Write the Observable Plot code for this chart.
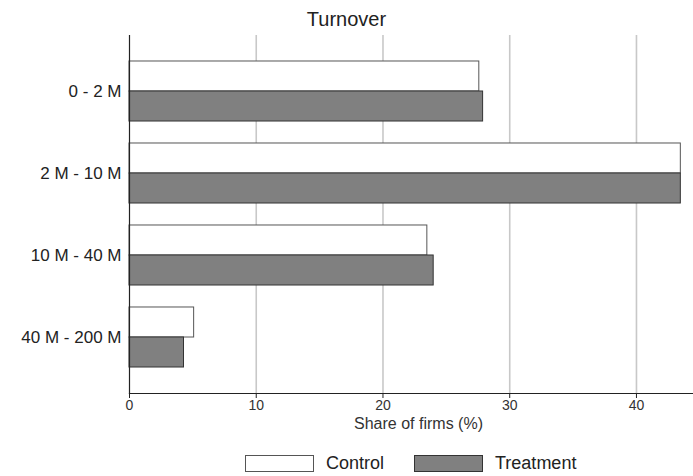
<!DOCTYPE html>
<html>
<head>
<meta charset="utf-8">
<script src="https://cdn.jsdelivr.net/npm/d3@7"></script>
<script src="https://cdn.jsdelivr.net/npm/@observablehq/plot@0.6"></script>
<style>
  html, body { margin: 0; padding: 0; background: #fff; }
  body { position: relative; width: 693px; height: 476px; overflow: hidden; font-family: Arial, "Liberation Sans", sans-serif; color: #222; }
  #title { height: 30px; line-height: 38px; text-align: center; font-size: 20px; white-space: nowrap; }
  #legend { position: absolute; top: 455px; left: 245px; display: flex; align-items: center; font-size: 18px; line-height: 17px; }
  .item { display: flex; align-items: center; margin-right: 30px; }
  .sw { box-sizing: border-box; width: 69px; height: 17px; border: 1px solid #444; margin-right: 12px; }
</style>
</head>
<body>
<div id="title">Turnover</div>
<div id="chart"></div>
<div id="legend"></div>
<script>
// Turnover classes and share of firms (%) in each group
const categories = ["0 - 2 M", "2 M - 10 M", "10 M - 40 M", "40 M - 200 M"];
const control = [27.6, 43.5, 23.5, 5.1];
const treatment = [27.9, 43.5, 24.0, 4.3];
const xTicks = [0, 10, 20, 30, 40];
const groups = ["Control", "Treatment"];
const groupFill = {Control: "#ffffff", Treatment: "#808080"};
const groupStroke = {Control: "#555555", Treatment: "#333333"};

const controlRows = categories.map((c, i) => ({category: c, value: control[i]}));
const treatmentRows = categories.map((c, i) => ({category: c, value: treatment[i]}));

const chart = Plot.plot({
  width: 693,
  height: 406,
  marginTop: 5,
  marginBottom: 43,
  marginLeft: 129,
  marginRight: 0,
  style: {fontFamily: "Arial, 'Liberation Sans', sans-serif", background: "#fff", overflow: "visible"},
  x: {domain: [0, 44.5], label: null},
  y: {domain: categories, paddingInner: 0.268, paddingOuter: 0.317, round: false, label: null},
  marks: [
    Plot.gridX({ticks: xTicks.filter(d => d > 0), stroke: "#c8c8c8", strokeOpacity: 1, strokeWidth: 1.6}),
    // each category band holds the control bar on top and the treatment bar below
    Plot.barX(controlRows, {x: "value", y: "category", fill: groupFill.Control, stroke: groupStroke.Control, strokeWidth: 1, insetBottom: 30}),
    Plot.barX(treatmentRows, {x: "value", y: "category", fill: groupFill.Treatment, stroke: groupStroke.Treatment, strokeWidth: 1, insetTop: 30}),
    Plot.axisY({tickSize: 0, tickPadding: 8, fontSize: 17, fill: "#222", label: null}),
    Plot.axisX({ticks: xTicks, tickSize: 5, tickPadding: 2, fontSize: 14, fill: "#333", label: null}),
    Plot.text(["Share of firms (%)"], {frameAnchor: "bottom", dy: 35, dx: 7, fontSize: 16, fill: "#333"}),
    Plot.frame({anchor: "left", stroke: "#222", strokeWidth: 1.2}),
    Plot.frame({anchor: "bottom", stroke: "#222", strokeWidth: 1.2})
  ]
});
document.getElementById("chart").appendChild(chart);

const legend = document.getElementById("legend");
for (const g of groups) {
  const item = document.createElement("div");
  item.className = "item";
  const sw = document.createElement("div");
  sw.className = "sw";
  sw.style.background = groupFill[g];
  sw.style.borderColor = groupStroke[g];
  const label = document.createElement("span");
  label.textContent = g;
  item.appendChild(sw);
  item.appendChild(label);
  legend.appendChild(item);
}
</script>
</body>
</html>
